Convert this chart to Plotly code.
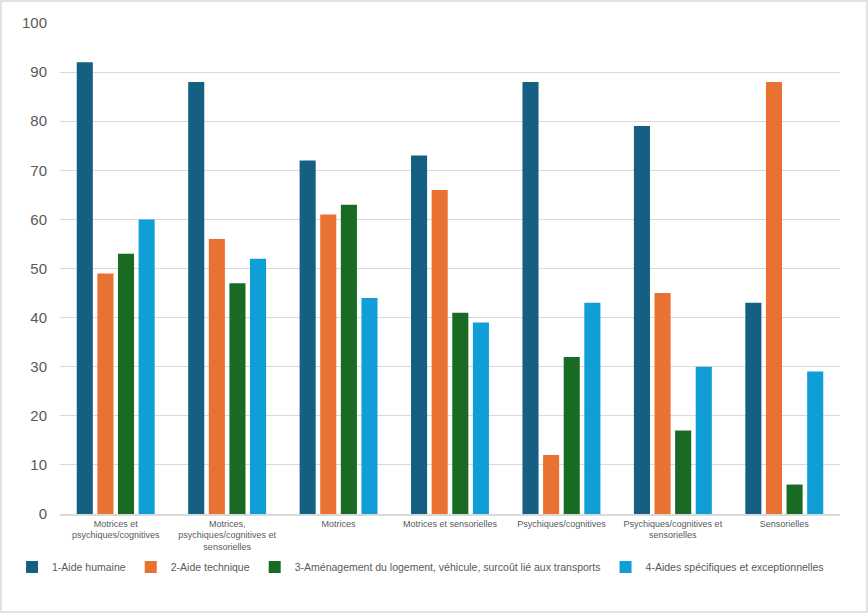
import plotly.graph_objects as go

categories = ["Motrices et<br>psychiques/cognitives",
              "Motrices,<br>psychiques/cognitives et<br>sensorielles",
              "Motrices",
              "Motrices et sensorielles",
              "Psychiques/cognitives",
              "Psychiques/cognitives et<br>sensorielles",
              "Sensorielles"]
series_names = ["1-Aide humaine", "2-Aide technique",
                "3-Aménagement du logement, véhicule, surcoût lié aux transports",
                "4-Aides spécifiques et exceptionnelles"]
aide_humaine = [92, 88, 72, 73, 88, 79, 43]
aide_technique = [49, 56, 61, 66, 12, 45, 88]
amenagement = [53, 47, 63, 41, 32, 17, 6]
aides_specifiques = [60, 52, 44, 39, 43, 30, 29]
y_ticks = [0, 10, 20, 30, 40, 50, 60, 70, 80, 90, 100]

colors = ["#156082", "#E97132", "#196B24", "#0F9ED5"]
series = [aide_humaine, aide_technique, amenagement, aides_specifiques]

fig = go.Figure()
for name, vals, c in zip(series_names, series, colors):
    fig.add_trace(go.Bar(x=categories, y=vals, name=name, marker_color=c,
                         marker_line_width=0))

font = "Liberation Sans, Arial, sans-serif"
fig.update_layout(
    width=868, height=614,
    margin=dict(l=60, r=28, t=23, b=100),
    paper_bgcolor="white", plot_bgcolor="white",
    barmode="group", bargap=0.26, bargroupgap=0.22,
    font=dict(family=font, color="#595959"),
    showlegend=True,
    legend=dict(orientation="h", x=-0.0615, xanchor="left",
                y=-0.108, yanchor="middle", tracegroupgap=0,
                bgcolor="rgba(0,0,0,0)",
                font=dict(size=10.5, color="#595959"), itemwidth=30, traceorder="normal"),
    xaxis=dict(showgrid=False, showline=True, linecolor="#D9D9D9", linewidth=1.5,
               tickfont=dict(size=9, color="#595959"), ticks="", tickangle=0,
               automargin=False),
    yaxis=dict(range=[0, 100], tickvals=y_ticks, showgrid=True, gridcolor="#D9D9D9",
               gridwidth=1, zeroline=False, showline=False, automargin=False,
               tickfont=dict(size=15, color="#595959"), ticks="", ticklen=0),
    shapes=[dict(type="rect", xref="paper", yref="paper",
                 x0=-0.0756, x1=1.0346, y0=-0.1996, y1=1.0448,
                 line=dict(color="#D9D9D9", width=1.5), fillcolor="rgba(0,0,0,0)")],
)
fig.update_yaxes(ticklabelstandoff=12)
fig.write_html("out.html", config={"displayModeBar": False},
               post_script="document.body.style.margin='0';")
